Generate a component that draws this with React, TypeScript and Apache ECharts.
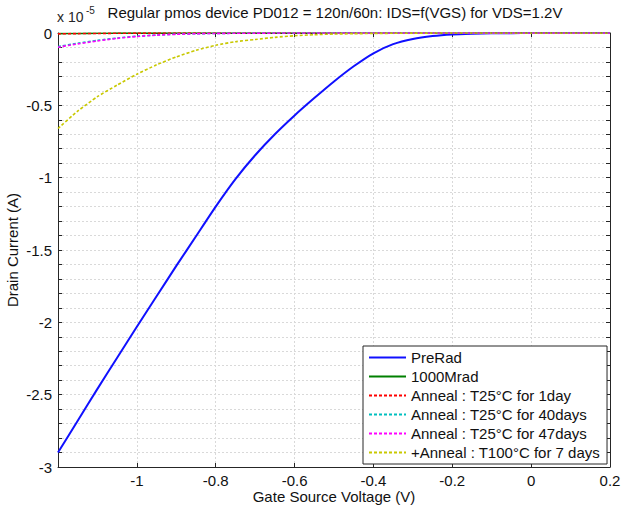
import React, { useEffect, useRef } from "react";
import * as echarts from "echarts";

const vgs = [-1.2, -1.15, -1.1, -1.05, -1.0, -0.95, -0.9, -0.85, -0.8, -0.75, -0.7, -0.65, -0.6, -0.55, -0.5, -0.45, -0.4, -0.35, -0.3, -0.25, -0.2, -0.15, -0.1, -0.05, 0, 0.05, 0.1, 0.15, 0.2];
const preRad = [-2.9, -2.68, -2.46, -2.245, -2.03, -1.82, -1.61, -1.405, -1.2, -1.01, -0.845, -0.7, -0.57, -0.45, -0.335, -0.23, -0.14, -0.077, -0.041, -0.021, -0.01, -0.005, -0.002, -0.001, -0.0005, 0, 0, 0, 0];
const rad1000 = [-0.004, -0.003, -0.002, -0.001, -0.0005, 0, 0, 0, 0, 0, 0, 0, 0, 0, 0, 0, 0, 0, 0, 0, 0, 0, 0, 0, 0, 0, 0, 0, 0];
const anneal1day = [-0.006, -0.004, -0.003, -0.002, -0.001, -0.0005, 0, 0, 0, 0, 0, 0, 0, 0, 0, 0, 0, 0, 0, 0, 0, 0, 0, 0, 0, 0, 0, 0, 0];
const anneal40days = [-0.094, -0.071, -0.051, -0.035, -0.022, -0.014, -0.008, -0.005, -0.003, -0.002, -0.001, -0.0005, 0, 0, 0, 0, 0, 0, 0, 0, 0, 0, 0, 0, 0, 0, 0, 0, 0];
const anneal47days = [-0.098, -0.075, -0.055, -0.037, -0.024, -0.015, -0.009, -0.005, -0.003, -0.002, -0.001, -0.0005, 0, 0, 0, 0, 0, 0, 0, 0, 0, 0, 0, 0, 0, 0, 0, 0, 0];
const anneal100 = [-0.66, -0.54, -0.44, -0.36, -0.285, -0.22, -0.165, -0.12, -0.085, -0.06, -0.045, -0.03, -0.019, -0.012, -0.007, -0.005, -0.003, -0.002, -0.001, -0.0005, 0, 0, 0, 0, 0, 0, 0, 0, 0];

const seriesNames = [
  "PreRad",
  "1000Mrad",
  "Anneal : T25°C for 1day",
  "Anneal : T25°C for 40days",
  "Anneal : T25°C for 47days",
  "+Anneal : T100°C for 7 days",
];
const seriesValues = [preRad, rad1000, anneal1day, anneal40days, anneal47days, anneal100];
const seriesColors = ["#1010ff", "#008000", "#ff0000", "#00bfbf", "#ff00ff", "#c8c800"];
const seriesDashed = [false, false, true, true, true, true];

const FONT = "'Liberation Sans', Arial, sans-serif";
const TXT = "#262626";

export default function App() {
  const ref = useRef<HTMLDivElement>(null);
  useEffect(() => {
    if (!ref.current) return;
    const chart = echarts.init(ref.current, undefined, { renderer: "svg" });
    const yLabel = (v: number) => {
      const t = v * 2;
      if (Math.abs(t - Math.round(t)) < 1e-6) {
        const r = Math.round(v * 10) / 10;
        return r === 0 ? "0" : String(r);
      }
      return "";
    };
    const xLabel = (v: number) => {
      if (v < -1.19) return "";
      const r = Math.round(v * 10) / 10;
      return r === 0 ? "0" : String(r);
    };
    const baseX = {
      type: "value",
      min: -1.2,
      max: 0.2,
      interval: 0.2,
      axisLine: { show: true, onZero: false, lineStyle: { color: TXT, width: 1 } },
      axisTick: { show: true, inside: true, length: 4, lineStyle: { color: TXT } },
    };
    const baseY = {
      type: "value",
      min: -3,
      max: 0,
      interval: 0.1,
      axisLine: { show: true, onZero: false, lineStyle: { color: TXT, width: 1 } },
      axisTick: { show: true, inside: true, length: 4, lineStyle: { color: TXT } },
    };
    const option: any = {
      animation: false,
      backgroundColor: "#ffffff",
      textStyle: { fontFamily: FONT },
      grid: { left: 58, right: 12, top: 33, bottom: 40, show: false, containLabel: false, outerBoundsMode: "none" },
      graphic: [
        {
          type: "text",
          left: 57,
          top: 10,
          style: { text: "x 10", font: `14px ${FONT}`, fill: TXT },
        },
        {
          type: "text",
          left: 86,
          top: 5,
          style: { text: "-5", font: `10px ${FONT}`, fill: TXT },
        },
        {
          type: "text",
          x: 335,
          y: 5,
          style: {
            text: "Regular pmos device PD012 = 120n/60n: IDS=f(VGS) for VDS=1.2V",
            font: `15px ${FONT}`,
            fill: "#111",
            align: "center",
          },
        },
      ],
      legend: {
        orient: "vertical",
        left: 363,
        top: 346,
        backgroundColor: "#ffffff",
        borderColor: TXT,
        borderWidth: 1,
        borderRadius: 0,
        padding: [3, 7, 3, 5],
        itemWidth: 37,
        itemHeight: 2,
        itemGap: 2,
        itemStyle: { opacity: 0 },
        textStyle: { fontSize: 15, color: "#111", fontFamily: FONT, lineHeight: 17 },
        data: seriesNames,
      },
      xAxis: [
        {
          ...baseX,
          position: "bottom",
          name: "Gate Source Voltage (V)",
          nameLocation: "middle",
          nameGap: 22,
          nameMoveOverlap: false,
          nameTextStyle: { fontSize: 15, color: "#111", fontFamily: FONT },
          axisLabel: { show: true, color: "#111", fontSize: 15, margin: 6, formatter: xLabel },
          splitLine: { show: true, lineStyle: { color: "#d9d9d9", type: [2, 2], width: 1 } },
        },
        {
          ...baseX,
          position: "top",
          axisLabel: { show: false },
          splitLine: { show: false },
        },
      ],
      yAxis: [
        {
          ...baseY,
          position: "left",
          name: "Drain Current (A)",
          nameLocation: "middle",
          nameGap: 38,
          nameMoveOverlap: false,
          nameTextStyle: { fontSize: 15, color: "#111", fontFamily: FONT },
          axisLabel: { show: true, color: "#111", fontSize: 15, margin: 6, formatter: yLabel },
          splitLine: { show: true, lineStyle: { color: "#d9d9d9", type: [2, 2], width: 1 } },
        },
        {
          ...baseY,
          position: "right",
          axisLabel: { show: false },
          splitLine: { show: false },
        },
      ],
      series: seriesNames.map((name, i) => ({
        name,
        type: "line",
        xAxisIndex: 0,
        yAxisIndex: 0,
        data: vgs.map((x, j) => [x, seriesValues[i][j]]),
        symbol: "none",
        showSymbol: false,
        smooth: 0.2,
        color: seriesColors[i],
        lineStyle: {
          color: seriesColors[i],
          width: i === 0 ? 2 : 1.6,
          type: seriesDashed[i] ? [3, 2] : "solid",
        },
        z: 2 + i,
      })),
    };
    chart.setOption(option);
    return () => chart.dispose();
  }, []);
  return <div ref={ref} style={{ position: "absolute", left: 0, top: 0, width: 622, height: 507 }} />;
}
